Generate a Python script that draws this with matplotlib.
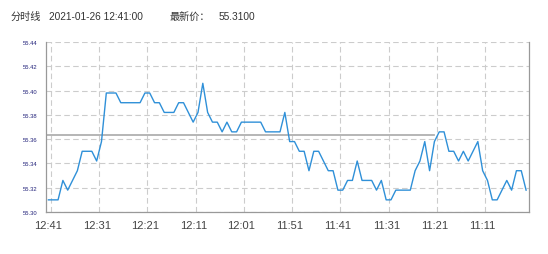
import matplotlib
matplotlib.use("Agg")
import matplotlib.pyplot as plt
import numpy as np

# minute-by-minute prices, newest first (12:41 going back to 11:02)
prices = [
    55.310, 55.310, 55.310, 55.326, 55.318, 55.326, 55.334, 55.350, 55.350, 55.350,
    55.342, 55.358, 55.398, 55.398, 55.398, 55.390, 55.390, 55.390, 55.390, 55.390,
    55.398, 55.398, 55.390, 55.390, 55.382, 55.382, 55.382, 55.390, 55.390, 55.382,
    55.374, 55.382, 55.406, 55.382, 55.374, 55.374, 55.366, 55.374, 55.366, 55.366,
    55.374, 55.374, 55.374, 55.374, 55.374, 55.366, 55.366, 55.366, 55.366, 55.382,
    55.358, 55.358, 55.350, 55.350, 55.334, 55.350, 55.350, 55.342, 55.334, 55.334,
    55.318, 55.318, 55.326, 55.326, 55.342, 55.326, 55.326, 55.326, 55.318, 55.326,
    55.310, 55.310, 55.318, 55.318, 55.318, 55.318, 55.334, 55.342, 55.358, 55.334,
    55.358, 55.366, 55.366, 55.350, 55.350, 55.342, 55.350, 55.342, 55.350, 55.358,
    55.334, 55.326, 55.310, 55.310, 55.318, 55.326, 55.318, 55.334, 55.334, 55.318,
]
ref_price = 55.3636
ref_end = 80  # reference line stops at 11:21

tick_pos = [0, 10, 20, 30, 40, 50, 60, 70, 80, 90]
tick_labels = ["12:41", "12:31", "12:21", "12:11", "12:01",
               "11:51", "11:41", "11:31", "11:21", "11:11"]
y_ticks = [55.30, 55.32, 55.34, 55.36, 55.38, 55.40, 55.42, 55.44]

title_parts = ["分时线", "2021-01-26 12:41:00", "最新价：", "55.3100"]

plt.rcParams["font.family"] = ["Liberation Sans", "Noto Sans CJK SC", "DejaVu Sans"]

fig = plt.figure(figsize=(5.48, 2.55), dpi=100)
ax = fig.add_axes([46 / 548, 1 - 213 / 255, 482.5 / 548, 170 / 255])

x = np.arange(len(prices))
ax.plot(x, prices, color="#2f90d8", lw=1.0, zorder=3)
ax.plot([-0.5, ref_end], [ref_price, ref_price], color="#b0b0b0", lw=1.3, zorder=2)

ax.set_xlim(-0.5, len(prices) - 0.5)
ax.set_ylim(55.30, 55.44)

ax.set_xticks(tick_pos)
ax.set_xticklabels(tick_labels)
ax.set_xticks([p + 0.5 for p in tick_pos], minor=True)
ax.set_yticks(y_ticks)
ax.set_yticklabels([f"{v:.2f}" for v in y_ticks])

ax.tick_params(axis="x", which="both", length=0, pad=6, labelsize=8, labelcolor="#444444")
ax.tick_params(axis="y", length=0, pad=6.5, labelsize=4.2, labelcolor="#22227a")

ax.grid(False)
ax.xaxis.grid(True, which="minor", color="#cccccc", ls=(0, (5, 3)), lw=0.8)
ax.yaxis.grid(True, which="major", color="#cccccc", ls=(0, (5, 3)), lw=0.8)
ax.set_axisbelow(True)

for s in ["left", "bottom", "right"]:
    ax.spines[s].set_color("#999999")
    ax.spines[s].set_linewidth(0.9)
ax.spines["top"].set_visible(False)

# title pieces placed like the source (wide gaps between them)
for xp, txt in zip([11, 49, 170, 219], title_parts):
    fig.text(xp / 548, 1 - 20 / 255, txt, fontsize=7.3, color="#333333",
             ha="left", va="baseline")

fig.savefig("out.png", dpi=100)
